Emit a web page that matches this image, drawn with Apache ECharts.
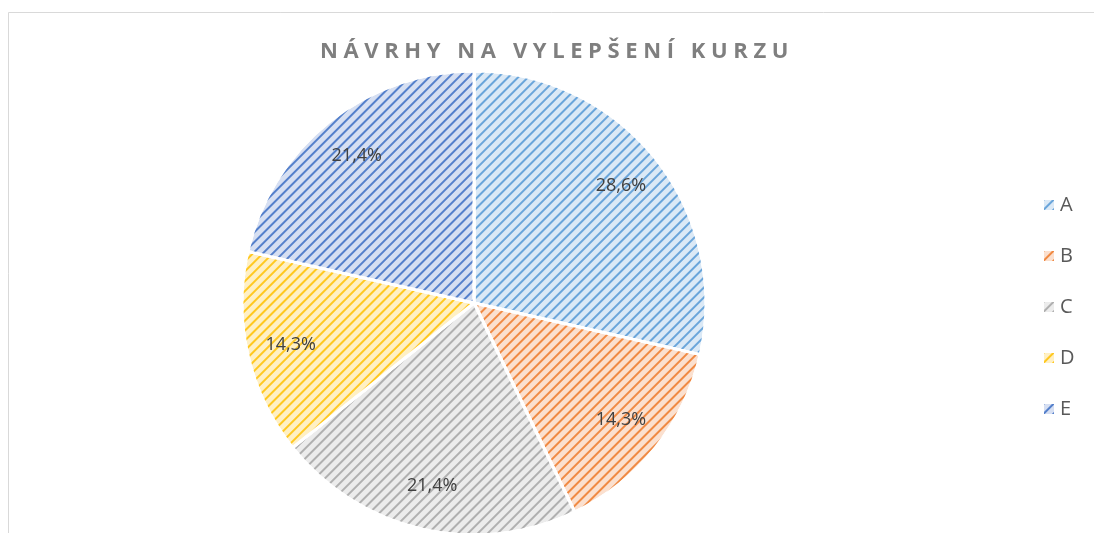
<!DOCTYPE html>
<html>
<head>
<meta charset="utf-8">
<script src="https://cdn.jsdelivr.net/npm/echarts@6/dist/echarts.min.js"></script>
<style>
  html, body { margin: 0; padding: 0; background: #fff; }
  #wrap { position: relative; width: 1094px; height: 533px; }
  #pieChart { width: 1094px; height: 533px; }
  #title {
    position: absolute; left: 0; width: 1114px; top: 34px;
    text-align: center; font-family: 'Open Sans', sans-serif; font-weight: bold;
    font-size: 22px; letter-spacing: 5.6px; color: #7f7f7f;
  }
</style>
</head>
<body>
<div id="wrap">
  <div id="pieChart"></div>
  <div id="title">NÁVRHY NA VYLEPŠENÍ KURZU</div>
</div>
<script>
  // data (counts out of 14)
  let categories = ['A', 'B', 'C', 'D', 'E']
  let values = [4, 2, 3, 2, 3]
  let stripeColors = ['#6aa5da', '#f08a44', '#b0b0b0', '#ffc820', '#5580cb']
  let fillColors = ['#dbe9f6', '#fbe0cf', '#ececec', '#fff0c4', '#d6dff2']

  let pieData = categories.map((name, i) => ({
    name: name,
    value: values[i],
    itemStyle: {
      color: fillColors[i],
      decal: {
        symbol: 'rect',
        symbolSize: 1,
        color: stripeColors[i],
        dashArrayX: [1, 0],
        dashArrayY: [2, 5],
        rotation: -Math.PI / 4
      }
    }
  }))

  let labelData = categories.map((name, i) => ({ name: name, value: values[i] }))

  const option = {
    backgroundColor: '#fff',
    graphic: [{
      type: 'rect',
      silent: true,
      shape: { x: 8.5, y: 12.5, width: 1200, height: 700 },
      style: { fill: 'none', stroke: '#d9d9d9', lineWidth: 1 }
    }],
    legend: {
      orient: 'vertical',
      left: 1037,
      top: 190,
      itemWidth: 12,
      itemHeight: 12,
      itemGap: 31,
      icon: 'rect',
      data: categories,
      textStyle: { fontFamily: 'Open Sans', fontSize: 20, color: '#595959' }
    },
    series: [{
      name: 'main',
      type: 'pie',
      center: [474, 303],
      radius: 232,
      startAngle: 90,
      clockwise: true,
      silent: true,
      label: { show: false },
      labelLine: { show: false },
      itemStyle: { borderColor: '#fff', borderWidth: 3 },
      data: pieData
    }, {
      name: 'labels',
      type: 'pie',
      center: [474, 303],
      radius: [144, 226],
      startAngle: 90,
      clockwise: true,
      silent: true,
      legendHoverLink: false,
      itemStyle: { color: 'rgba(0,0,0,0)' },
      label: {
        show: true,
        position: 'inside',
        fontFamily: 'Open Sans',
        fontSize: 18,
        color: '#404040',
        formatter: function (p) {
          return p.percent.toFixed(1).replace('.', ',') + '%'
        }
      },
      labelLine: { show: false },
      data: labelData
    }]
  }

  let chart = echarts.init(document.getElementById('pieChart'))
  chart.setOption(option)
</script>
</body>
</html>
